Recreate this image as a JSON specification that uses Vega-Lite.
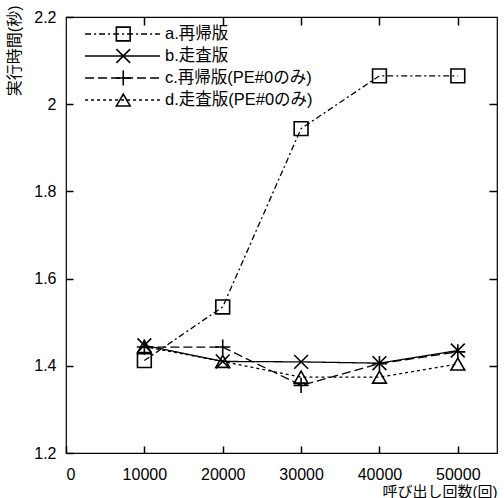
{
  "$schema": "https://vega.github.io/schema/vega-lite/v6.json",
  "autosize": "none",
  "padding": {"left": 66, "top": 17, "right": 7, "bottom": 45},
  "width": 431,
  "height": 436,
  "config": {
    "font": "Liberation Sans, Arial, Noto Sans CJK JP",
    "view": {"stroke": "black", "strokeWidth": 1.2},
    "axis": {
      "domain": false,
      "tickColor": "black",
      "labelColor": "black",
      "titleColor": "black",
      "labelFontSize": 16,
      "titleFontSize": 16,
      "titleFontWeight": "normal",
      "grid": false,
      "tickSize": 7,
      "tickWidth": 1.5,
      "offset": -7
    },
    "legend": {
      "labelFontSize": 16.5,
      "labelColor": "black"
    }
  },
  "resolve": {"axis": {"x": "independent", "y": "independent"}},
  "data": {
    "values": [
      {"series": "a.再帰版", "x": 10000, "y": 1.412},
      {"series": "a.再帰版", "x": 20000, "y": 1.535},
      {"series": "a.再帰版", "x": 30000, "y": 1.944},
      {"series": "a.再帰版", "x": 40000, "y": 2.065},
      {"series": "a.再帰版", "x": 50000, "y": 2.065},
      {"series": "b.走査版", "x": 10000, "y": 1.447},
      {"series": "b.走査版", "x": 20000, "y": 1.41},
      {"series": "b.走査版", "x": 30000, "y": 1.409},
      {"series": "b.走査版", "x": 40000, "y": 1.406},
      {"series": "b.走査版", "x": 50000, "y": 1.435},
      {"series": "c.再帰版(PE#0のみ)", "x": 10000, "y": 1.443},
      {"series": "c.再帰版(PE#0のみ)", "x": 20000, "y": 1.443},
      {"series": "c.再帰版(PE#0のみ)", "x": 30000, "y": 1.355},
      {"series": "c.再帰版(PE#0のみ)", "x": 40000, "y": 1.405},
      {"series": "c.再帰版(PE#0のみ)", "x": 50000, "y": 1.432},
      {"series": "d.走査版(PE#0のみ)", "x": 10000, "y": 1.444},
      {"series": "d.走査版(PE#0のみ)", "x": 20000, "y": 1.41},
      {"series": "d.走査版(PE#0のみ)", "x": 30000, "y": 1.374},
      {"series": "d.走査版(PE#0のみ)", "x": 40000, "y": 1.374},
      {"series": "d.走査版(PE#0のみ)", "x": 50000, "y": 1.404}
    ]
  },
  "layer": [
    {
      "mark": {"type": "line", "color": "black", "strokeWidth": 1.3},
      "encoding": {
        "x": {
          "field": "x", "type": "quantitative",
          "scale": {"domain": [0, 55000], "nice": false},
          "axis": {"orient": "bottom", "values": [0, 10000, 20000, 30000, 40000, 50000], "format": "d", "labelPadding": 13, "title": "呼び出し回数(回)", "titleAnchor": "end", "titleFontSize": 15, "titleY": 38, "titleBaseline": "top"}
        },
        "y": {
          "field": "y", "type": "quantitative",
          "scale": {"domain": [1.2, 2.2], "nice": false, "zero": false},
          "axis": {"orient": "left", "values": [1.2, 1.4, 1.6, 1.8, 2.0, 2.2], "format": ".1~f", "labelPadding": 10, "title": "実行時間(秒)", "titleAnchor": "end", "titleX": -51, "titleY": -12}
        },
        "strokeDash": {
          "field": "series", "type": "nominal",
          "scale": {"range": [[6, 3, 2, 3], [1, 0], [9, 4], [3, 3]]},
          "legend": {
            "title": null,
            "orient": "none",
            "legendX": 18,
            "legendY": 7,
            "symbolType": "stroke",
            "symbolSize": 5600,
            "symbolStrokeColor": "black",
            "symbolStrokeWidth": 1.3,
            "clipHeight": 20,
            "labelOffset": 4
          }
        }
      }
    },
    {
      "mark": {"type": "point", "filled": false, "color": "black", "opacity": 1, "strokeWidth": 1.6, "size": 190},
      "encoding": {
        "x": {"field": "x", "type": "quantitative", "axis": {"orient": "top", "values": [10000, 20000, 30000, 40000, 50000], "labels": false, "title": null, "tickSize": 8, "offset": -8}},
        "y": {"field": "y", "type": "quantitative", "axis": {"orient": "right", "values": [1.4, 1.6, 1.8, 2.0], "labels": false, "title": null, "tickSize": 8, "offset": -8}},
        "shape": {
          "field": "series", "type": "nominal",
          "scale": {"range": ["square", "M-1,-1L1,1M1,-1L-1,1", "M-1.1,0L1.1,0M0,-1.1L0,1.1", "triangle-up"]},
          "legend": {
            "title": null,
            "orient": "none",
            "legendX": 49,
            "legendY": 7,
            "symbolSize": 190,
            "symbolStrokeColor": "black",
            "symbolFillColor": "transparent",
            "symbolStrokeWidth": 1.6,
            "symbolOpacity": 1,
            "clipHeight": 20,
            "labelExpr": "''"
          }
        }
      }
    }
  ]
}
